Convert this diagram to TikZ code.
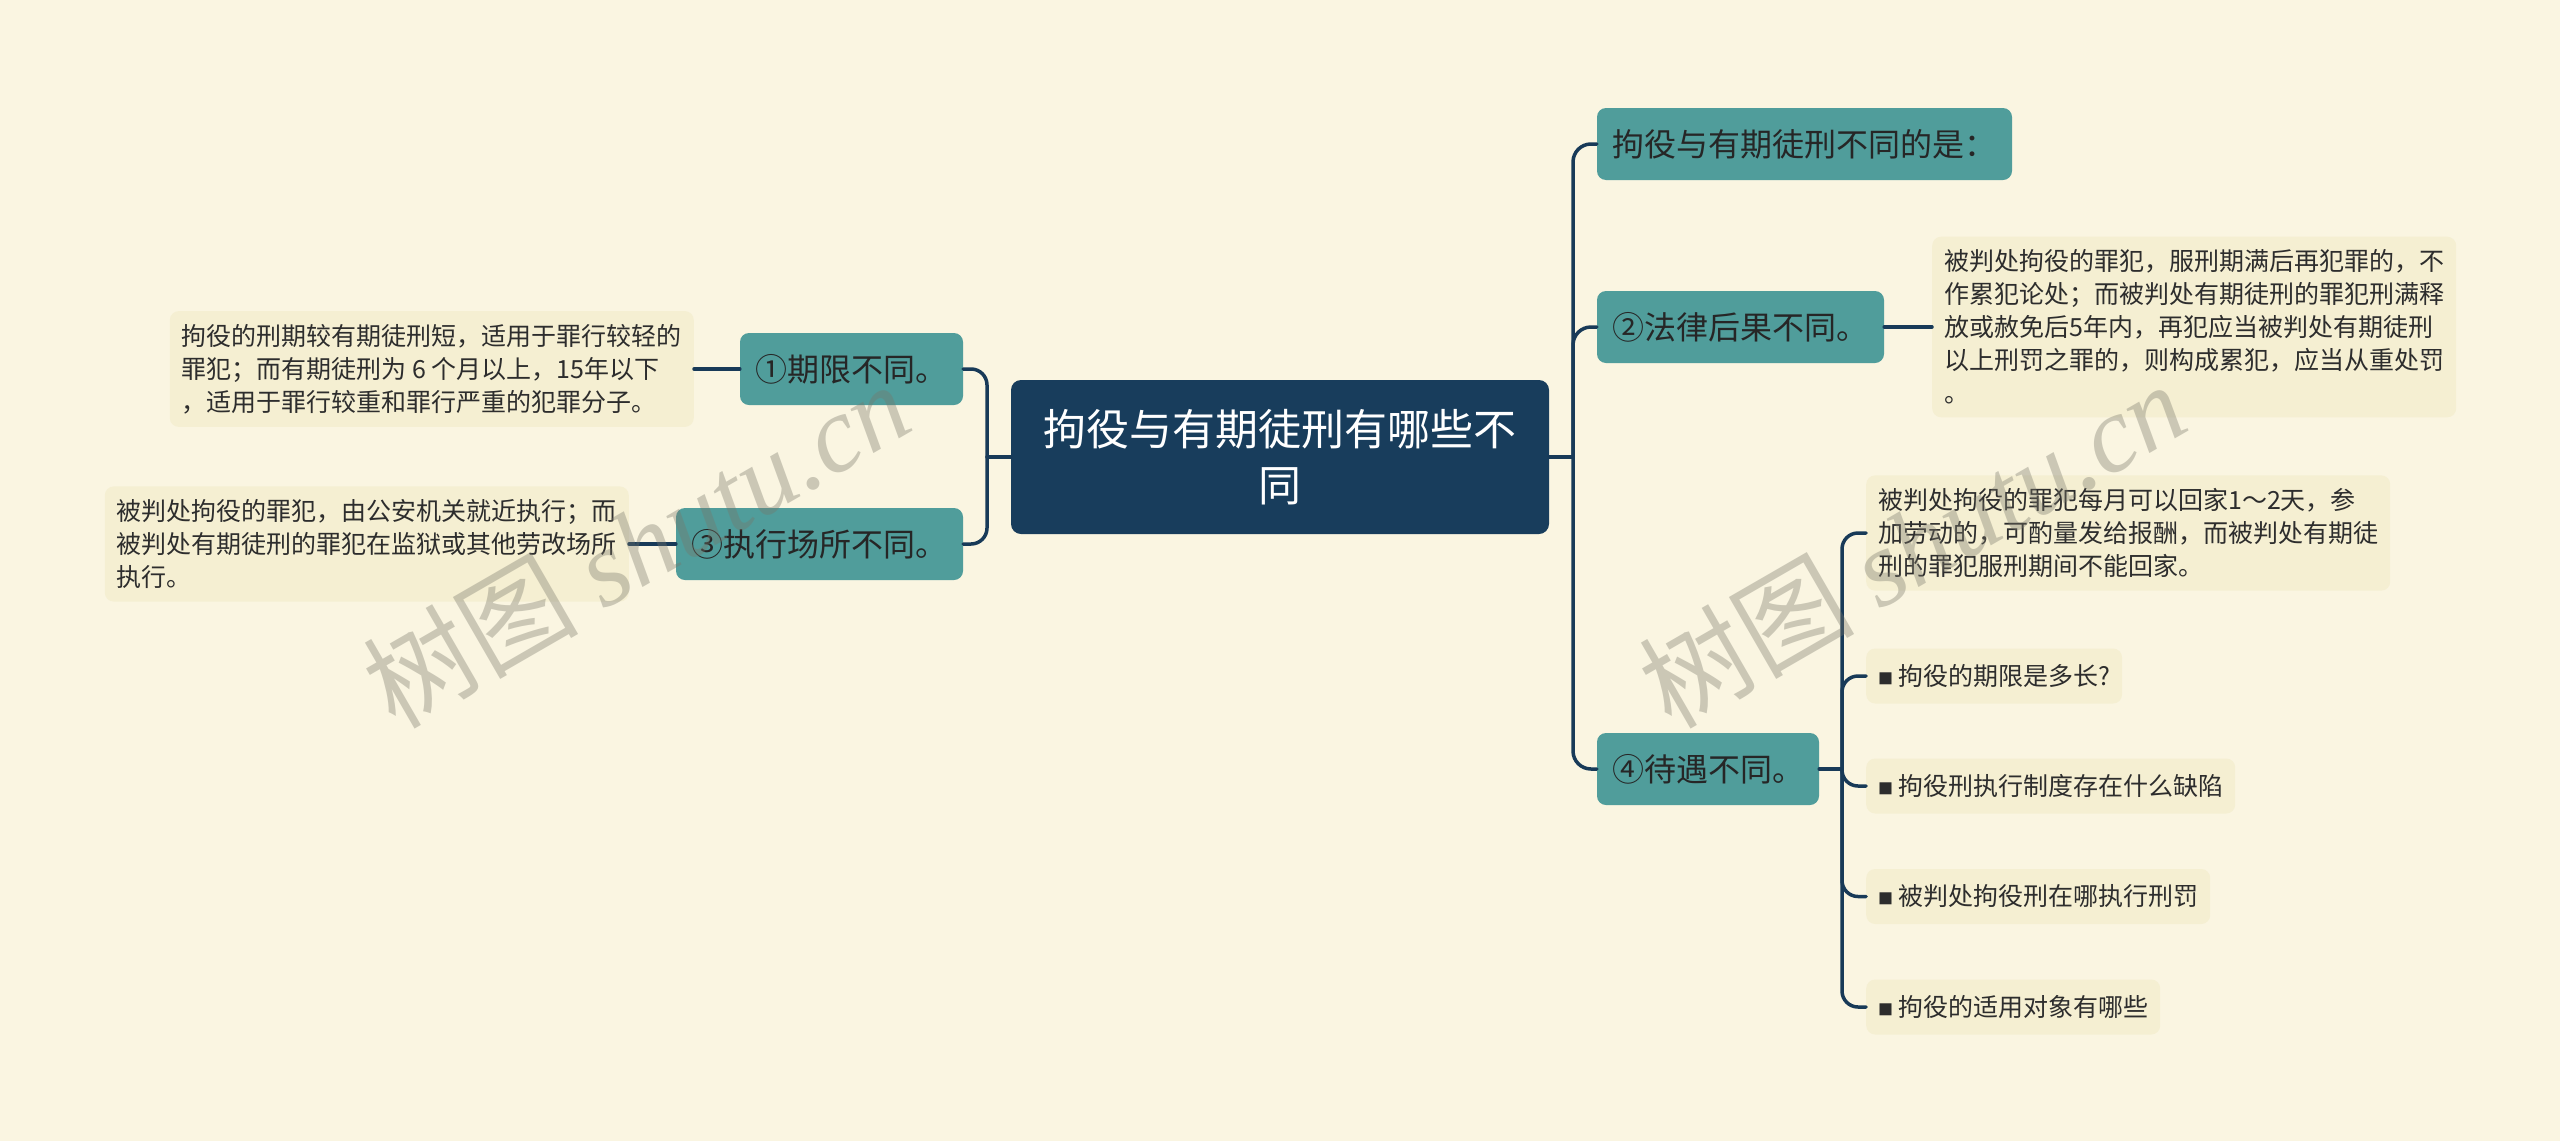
\documentclass[tikz,border=0pt]{standalone}
\usepackage{fontspec}
\setmainfont{Noto Sans CJK SC}
\newfontfamily\wmserif{Liberation Serif}
\definecolor{bgc}{RGB}{250,245,225}
\definecolor{rootc}{RGB}{24,61,92}
\definecolor{linec}{RGB}{24,58,88}
\definecolor{tealc}{RGB}{80,157,155}
\definecolor{leafc}{RGB}{245,239,210}
\definecolor{darktxt}{RGB}{38,38,38}
\definecolor{leaftxt}{RGB}{45,45,45}
\definecolor{wmc}{RGB}{120,118,105}
\newcommand\blt{\raisebox{1pt}{\fontsize{15}{15}\selectfont ■}\hspace{5pt}}
\begin{document}
\begin{tikzpicture}[x=1pt,y=-1pt,
  rootbox/.style={fill=rootc, rounded corners=10pt, text=white, font=\fontsize{43}{56}\selectfont, align=center, minimum width=538pt, minimum height=154pt, inner sep=0pt},
  subbox/.style={fill=tealc, rounded corners=9pt, text=darktxt, font=\fontsize{32}{38}\selectfont, minimum height=72pt, inner sep=0pt},
  leafbox/.style={fill=leafc, rounded corners=9pt, text=leaftxt, font=\fontsize{25}{33}\selectfont, align=left, inner xsep=12pt, inner ysep=13pt},
  qbox/.style={leafbox, minimum height=55pt},
  link/.style={draw=linec, line width=3.5pt, line cap=round},
  wm/.style={text=wmc, opacity=0.36, rotate=30, inner sep=0pt}
]
\fill[bgc] (0,0) rectangle (2560,1141);
\useasboundingbox (0,0) rectangle (2560,1141);

% root
\node[rootbox] (root) at (1280,457) {拘役与有期徒刑有哪些不\\同};

% left children
\node[subbox, minimum width=223pt] (c1) at (851.5,369) {①期限不同。};
\node[subbox, minimum width=287pt] (c3) at (819.5,544) {③执行场所不同。};

% right children
\node[subbox, minimum width=415pt] (c0) at (1804.5,144) {拘役与有期徒刑不同的是：};
\node[subbox, minimum width=287pt] (c2) at (1740.5,327) {②法律后果不同。};
\node[subbox, minimum width=222pt] (c4) at (1708,769) {④待遇不同。};

% leaves
\node[leafbox, anchor=east] (l1) at (694,369) {拘役的刑期较有期徒刑短，适用于罪行较轻的\\罪犯；而有期徒刑为 6 个月以上，15年以下\\，适用于罪行较重和罪行严重的犯罪分子。};
\node[leafbox, anchor=east] (l3) at (629,544) {被判处拘役的罪犯，由公安机关就近执行；而\\被判处有期徒刑的罪犯在监狱或其他劳改场所\\执行。};
\node[leafbox, anchor=west] (l2) at (1932,327) {被判处拘役的罪犯，服刑期满后再犯罪的，不\\作累犯论处；而被判处有期徒刑的罪犯刑满释\\放或赦免后5年内，再犯应当被判处有期徒刑\\以上刑罚之罪的，则构成累犯，应当从重处罚\\。};
\node[leafbox, anchor=west] (l4a) at (1866,533) {被判处拘役的罪犯每月可以回家1～2天，参\\加劳动的，可酌量发给报酬，而被判处有期徒\\刑的罪犯服刑期间不能回家。};
\node[qbox, anchor=west] (l4b) at (1866,676) {\blt 拘役的期限是多长?};
\node[qbox, anchor=west] (l4c) at (1866,786) {\blt 拘役刑执行制度存在什么缺陷};
\node[qbox, anchor=west] (l4d) at (1866,896.5) {\blt 被判处拘役刑在哪执行刑罚};
\node[qbox, anchor=west] (l4e) at (1866,1007) {\blt 拘役的适用对象有哪些};

% junctions
\coordinate (jR) at (1573,457);
\coordinate (jL) at (987,457);
\coordinate (j4) at (1842,769);

% connectors root -> children
\draw[link] (root.east) -- (jR);
\draw[link] (root.west) -- (jL);
\foreach \c in {c0,c2,c4} {
  \draw[link, rounded corners=18pt] (jR) |- (\c.west);
}
\foreach \c in {c1,c3} {
  \draw[link, rounded corners=16pt] (jL) |- (\c.east);
}
% children -> leaves
\draw[link] (c1.west) -- (l1.east);
\draw[link] (c3.west) -- (l3.east);
\draw[link] (c2.east) -- (l2.west);
\draw[link] (c4.east) -- (j4);
\foreach \l in {l4a,l4b,l4c,l4d,l4e} {
  \draw[link, rounded corners=16pt] (j4) |- (\l.west);
}

% watermarks
\node[wm] (wm1) at (636,544) {\fontsize{108}{108}\selectfont 树图 {\wmserif\itshape shutu.cn}};
\node[wm] (wm2) at (1912,544) {\fontsize{108}{108}\selectfont 树图 {\wmserif\itshape shutu.cn}};
\end{tikzpicture}
\end{document}
